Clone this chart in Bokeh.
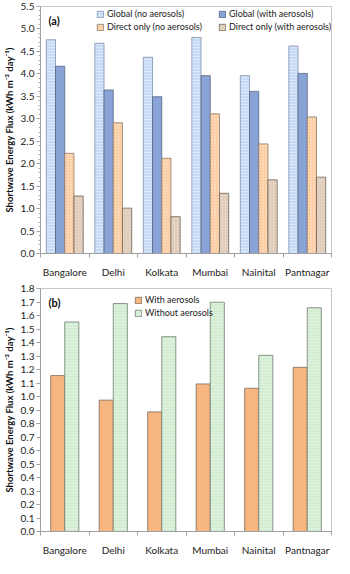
import numpy as np
from bokeh.plotting import figure
from bokeh.models import (Range1d, FixedTicker, NumeralTickFormatter,
                          Legend, LegendItem, Label)
from bokeh.layouts import column
from bokeh.embed import file_html
from bokeh.resources import INLINE

cities = ["Bangalore", "Delhi", "Kolkata", "Mumbai", "Nainital", "Pantnagar"]

global_no_aer = [4.76, 4.68, 4.37, 4.81, 3.96, 4.62]
global_with_aer = [4.17, 3.64, 3.49, 3.96, 3.61, 4.01]
direct_no_aer = [2.23, 2.91, 2.12, 3.11, 2.44, 3.04]
direct_with_aer = [1.28, 1.01, 0.82, 1.34, 1.64, 1.70]

energy_with_aer = [1.155, 0.973, 0.886, 1.093, 1.061, 1.216]
energy_without_aer = [1.552, 1.689, 1.443, 1.698, 1.305, 1.657]

FONT = "Lato"
YLABEL = "Shortwave Energy Flux (kWh m\u207b\u00b2 day\u207b\u00b9)"
centers = np.arange(len(cities)) + 0.5


def style(p, ymax, step, minor):
    p.x_range = Range1d(0, len(cities))
    p.y_range = Range1d(0, ymax)
    p.xgrid.visible = False
    p.ygrid.visible = False
    p.outline_line_color = "#c8c8c8"
    p.xaxis.ticker = FixedTicker(ticks=list(centers), minor_ticks=list(range(len(cities) + 1)))
    p.xaxis.major_label_overrides = {float(c): n for c, n in zip(centers, cities)}
    p.xaxis.major_tick_line_color = None
    p.xaxis.minor_tick_in = 0
    p.xaxis.minor_tick_out = 4
    p.xaxis.minor_tick_line_color = "#a0a0a0"
    p.xaxis.axis_line_color = "#a0a0a0"
    p.xaxis.major_label_text_font = FONT
    p.xaxis.major_label_text_font_size = "10px"
    p.xaxis.major_label_text_color = "#222222"
    p.xaxis.major_label_standoff = 6
    nt = int(round(ymax / step))
    p.yaxis.ticker = FixedTicker(ticks=[round(i * step, 2) for i in range(nt + 1)],
                                 minor_ticks=[round(i * minor, 3) for i in range(int(round(ymax / minor)) + 1)])
    p.yaxis.formatter = NumeralTickFormatter(format="0.0")
    p.yaxis.axis_line_color = "#a0a0a0"
    p.yaxis.major_tick_line_color = "#a0a0a0"
    p.yaxis.minor_tick_line_color = "#b0b0b0"
    p.yaxis.major_tick_in = 0
    p.yaxis.major_tick_out = 4
    p.yaxis.minor_tick_in = 0
    p.yaxis.minor_tick_out = 2
    p.yaxis.major_label_text_font = FONT
    p.yaxis.major_label_text_font_size = "10px"
    p.yaxis.major_label_text_color = "#222222"
    p.yaxis.major_label_standoff = 2
    p.yaxis.axis_label = YLABEL
    p.yaxis.axis_label_text_font = FONT
    p.yaxis.axis_label_text_font_style = "bold"
    p.yaxis.axis_label_text_font_size = "9.5px"
    p.yaxis.axis_label_text_color = "#111111"
    p.yaxis.axis_label_standoff = 3


def make_legend(items, loc):
    return Legend(items=items, location=loc, padding=0, spacing=0, margin=0,
                  label_text_font=FONT, label_text_font_size="9px", label_text_color="#222222",
                  glyph_width=8, glyph_height=8, label_standoff=3, label_height=13,
                  background_fill_alpha=0, border_line_color=None)


# ---------- panel (a) ----------
pa = figure(width=334, height=280, output_backend="svg", toolbar_location=None,
            min_border_left=8, min_border_right=3, min_border_top=6, min_border_bottom=4)
style(pa, 5.5, 0.5, 0.1)

bw = 0.19
offs = [-1.5 * bw, -0.5 * bw, 0.5 * bw, 1.5 * bw]
r1 = pa.vbar(x=centers + offs[0], top=global_no_aer, width=bw, fill_color="#c8dbf6",
             line_color="#8090a8", line_width=0.8, hatch_pattern="horizontal_line",
             hatch_color="white", hatch_alpha=0.35, hatch_scale=3, hatch_weight=1)
r2 = pa.vbar(x=centers + offs[1], top=global_with_aer, width=bw, fill_color="#8aa3d6",
             line_color="#55637d", line_width=0.8)
r3 = pa.vbar(x=centers + offs[2], top=direct_no_aer, width=bw, fill_color="#fcc594",
             line_color="#8a7a6a", line_width=0.8, hatch_pattern="diagonal_cross",
             hatch_color="white", hatch_alpha=0.6, hatch_scale=3, hatch_weight=0.7)
r4 = pa.vbar(x=centers + offs[3], top=direct_with_aer, width=bw, fill_color="#ecdccb",
             line_color="#6f6258", line_width=0.8, hatch_pattern="diagonal_cross",
             hatch_color="#b89e86", hatch_alpha=0.6, hatch_scale=3, hatch_weight=0.6)

pa.add_layout(make_legend([LegendItem(label="Global (no aerosols)", renderers=[r1]),
                           LegendItem(label="Direct only (no aerosols)", renderers=[r3])],
                          (56, 220)))
pa.add_layout(make_legend([LegendItem(label="Global (with aerosols)", renderers=[r2]),
                           LegendItem(label="Direct only (with aerosols)", renderers=[r4])],
                          (178, 220)))
pa.add_layout(Label(x=8, y=5.5, x_units="screen", y_offset=-20, text="(a)",
                    text_font=FONT, text_font_style="bold", text_font_size="11px",
                    text_color="#111111"))

# ---------- panel (b) ----------
pb = figure(width=334, height=278, output_backend="svg", toolbar_location=None,
            min_border_left=8, min_border_right=3, min_border_top=8, min_border_bottom=2)
style(pb, 1.8, 0.1, 0.02)
pb.yaxis.minor_tick_line_color = None

bw2 = 0.29
s1 = pb.vbar(x=centers - bw2 / 2, top=energy_with_aer, width=bw2, fill_color="#f7b67f",
             line_color="#7d6a5a", line_width=0.8)
s2 = pb.vbar(x=centers + bw2 / 2, top=energy_without_aer, width=bw2, fill_color="#d3ecd2",
             line_color="#6e7d6e", line_width=0.8, hatch_pattern="horizontal_line",
             hatch_color="white", hatch_alpha=0.3, hatch_scale=3, hatch_weight=1)

pb.add_layout(make_legend([LegendItem(label="With aerosols", renderers=[s1]),
                           LegendItem(label="Without aerosols", renderers=[s2])],
                          (94, 212)))
pb.add_layout(Label(x=8, y=1.8, x_units="screen", y_offset=-20, text="(b)",
                    text_font=FONT, text_font_style="bold", text_font_size="11px",
                    text_color="#111111"))

layout = column(pa, pb, spacing=0)
open("out.html", "w").write(file_html(layout, INLINE))
